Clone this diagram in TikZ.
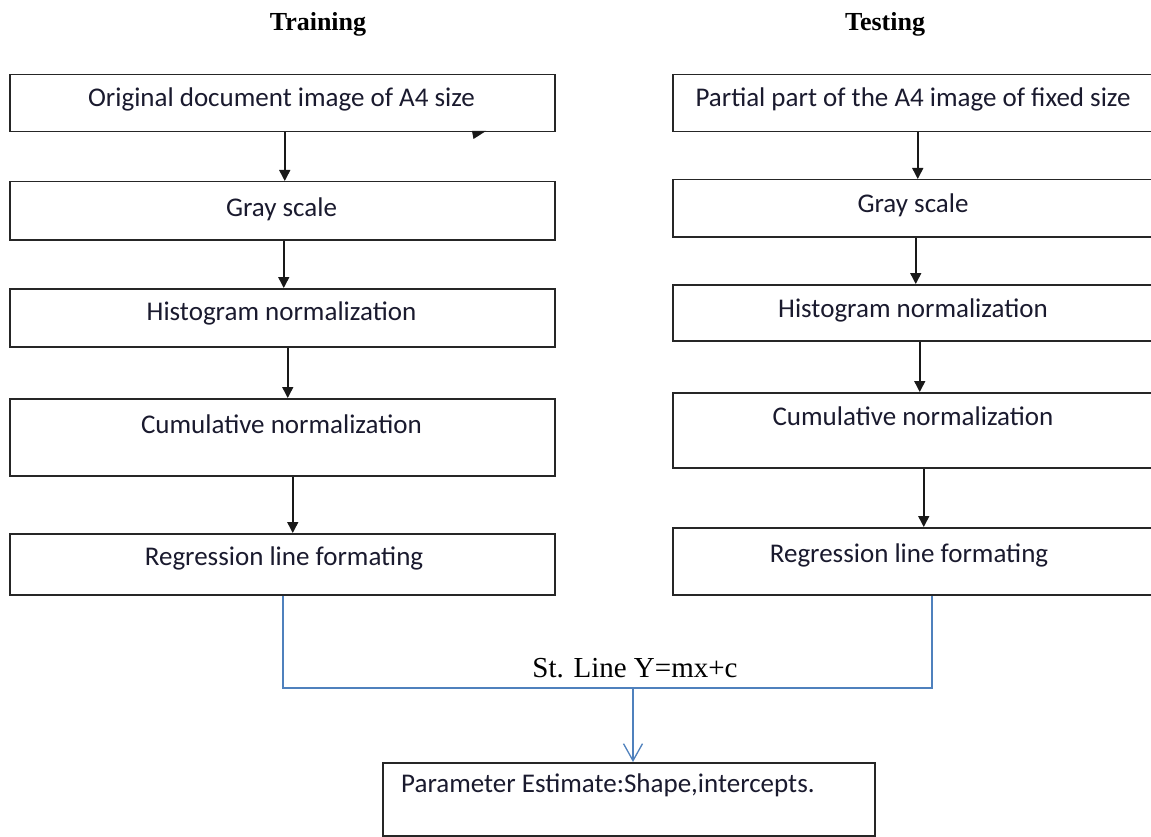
\documentclass[tikz,border=0pt]{standalone}
\usepackage{fontspec}
\setmainfont{Liberation Serif}
\newfontfamily\boxfont{Carlito}
\usetikzlibrary{arrows.meta}
\definecolor{wordblue}{HTML}{4F81BD}
\definecolor{boxtextcol}{HTML}{1A1A2E}
\begin{document}
\begin{tikzpicture}[x=1pt,y=-1pt,
  procbox/.style={draw=black!85, line width=1.5pt, inner sep=0pt, anchor=north west},
  boxtext/.style={font=\boxfont\fontsize{27}{32}\selectfont, text=boxtextcol, anchor=base, inner sep=0pt},
  titletext/.style={font=\bfseries\fontsize{26}{30}\selectfont, anchor=base, inner sep=0pt},
  flow/.style={line width=1.5pt, draw=black!90, -{Triangle[width=11pt,length=11pt]}},
  blueline/.style={draw=wordblue, line width=1.3pt},
]
\useasboundingbox (0,0) rectangle (1151,837);
\fill[white] (0,0) rectangle (1151,837);

% titles
\node[titletext] (ttrain) at (318,31) {Training};
\node[titletext] (ttest) at (885,31) {Testing};

% left column boxes
\node[procbox, minimum width=545pt, minimum height=57pt] (L1) at (9,74) {};
\node[procbox, minimum width=545pt, minimum height=58pt] (L2) at (9,181) {};
\node[procbox, minimum width=545pt, minimum height=58pt] (L3) at (9,288) {};
\node[procbox, minimum width=545pt, minimum height=77pt] (L4) at (9,398) {};
\node[procbox, minimum width=545pt, minimum height=61pt] (L5) at (9,533) {};

% right column boxes
\node[procbox, minimum width=482pt, minimum height=57pt] (R1) at (672,74) {};
\node[procbox, minimum width=482pt, minimum height=57pt] (R2) at (672,179) {};
\node[procbox, minimum width=482pt, minimum height=56pt] (R3) at (672,284) {};
\node[procbox, minimum width=482pt, minimum height=75pt] (R4) at (672,392) {};
\node[procbox, minimum width=482pt, minimum height=67pt] (R5) at (672,527) {};

% bottom box
\node[procbox, minimum width=492pt, minimum height=73pt] (B) at (382,762) {};

% texts
\node[boxtext] (L1t) at (281.5,107) {Original document image of A4 size};
\node[boxtext] (L2t) at (281.5,217) {Gray scale};
\node[boxtext] (L3t) at (281.5,320) {Histogram normalization};
\node[boxtext] (L4t) at (281.5,433) {Cumulative normalization};
\node[boxtext] (L5t) at (284,565) {Regression line formating};

\node[boxtext] (R1t) at (913,107) {Partial part of the A4 image of fixed size};
\node[boxtext] (R2t) at (913,213) {Gray scale};
\node[boxtext] (R3t) at (913,317) {Histogram normalization};
\node[boxtext] (R4t) at (913,425) {Cumulative normalization};
\node[boxtext] (R5t) at (909,562) {Regression line formating};

\node[boxtext, anchor=base west] (Bt) at (401,792) {Parameter Estimate:Shape,intercepts.};

\node[font=\fontsize{29}{32}\selectfont, anchor=base, inner sep=0pt] (stl) at (635,677) {St. Line Y=mx+c};

% left arrows
\draw[flow] ([xshift=2.5pt]L1.south) -- ([xshift=2.5pt]L2.north);
\draw[flow] ([xshift=1.5pt]L2.south) -- ([xshift=1.5pt]L3.north);
\draw[flow] ([xshift=5.5pt]L3.south) -- ([xshift=5.5pt]L4.north);
\draw[flow] ([xshift=10.5pt]L4.south) -- ([xshift=10.5pt]L5.north);

% right arrows
\draw[flow] ([xshift=4pt]R1.south) -- ([xshift=4pt]R2.north);
\draw[flow] ([xshift=2pt]R2.south) -- ([xshift=2pt]R3.north);
\draw[flow] ([xshift=6pt]R3.south) -- ([xshift=6pt]R4.north);
\draw[flow] ([xshift=10pt]R4.south) -- ([xshift=10pt]R5.north);

% stray arrowhead
\fill[black!90] (472,131) -- (486,131) -- (473.5,139) -- cycle;

% blue joining lines
\coordinate (jl) at (283,688);
\coordinate (jr) at (932,688);
\coordinate (jm) at (633,688);
\draw[blueline] (jl |- L5.south) -- (jl) -- (jr) -- (jr |- R5.south);
\draw[blueline, -{Straight Barb[length=17pt,width=19pt,line width=1.3pt]}] (jm) -- (jm |- B.north);
\end{tikzpicture}
\end{document}
